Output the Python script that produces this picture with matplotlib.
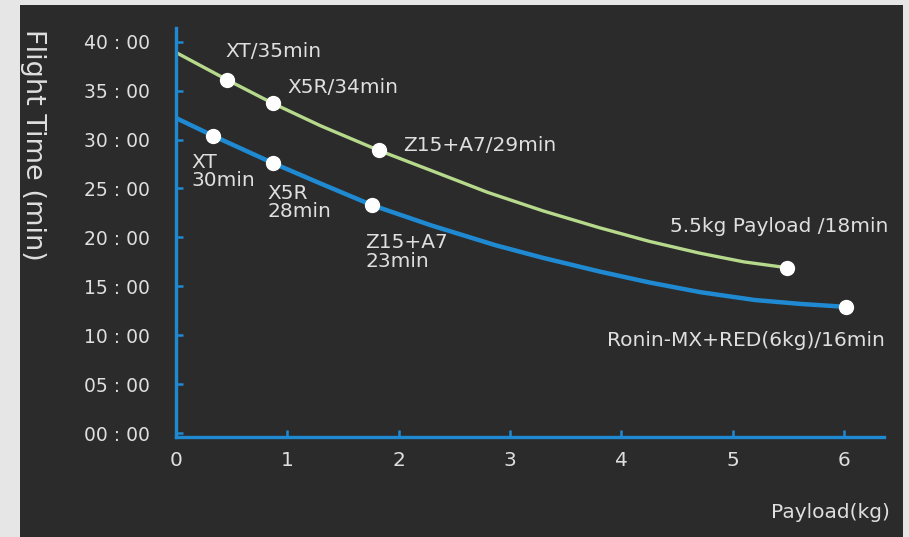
import matplotlib.pyplot as plt
from matplotlib.patches import Rectangle

# curve (payload kg, flight time min)
green_x = [0, 0.46, 0.87, 1.3, 1.82, 2.3, 2.8, 3.3, 3.8, 4.25, 4.7, 5.1, 5.49]
green_y = [38.9, 36.1, 33.7, 31.4, 28.9, 26.8, 24.6, 22.7, 21.0, 19.6, 18.4, 17.5, 16.9]
blue_x = [0, 0.33, 0.87, 1.3, 1.76, 2.3, 2.87, 3.3, 3.81, 4.25, 4.71, 5.2, 5.61, 6.02]
blue_y = [32.2, 30.4, 27.6, 25.5, 23.3, 21.2, 19.2, 17.9, 16.5, 15.4, 14.4, 13.6, 13.2, 12.9]

# labelled points
green_pts_x = [0.46, 0.87, 1.82, 5.49]
green_pts_y = [36.1, 33.7, 28.9, 16.9]
blue_pts_x = [0.33, 0.87, 1.76, 6.02]
blue_pts_y = [30.4, 27.6, 23.3, 12.9]

green_labels = ["XT/35min", "X5R/34min", "Z15+A7/29min", "5.5kg Payload /18min"]
blue_labels = ["XT\n30min", "X5R\n28min", "Z15+A7\n23min", "Ronin-MX+RED(6kg)/16min"]

yticks = [0, 5, 10, 15, 20, 25, 30, 35, 40]
ytick_labels = ["%02d : 00" % v for v in yticks]
xticks = [0, 1, 2, 3, 4, 5, 6]

BG = '#2b2b2b'
TXT = '#dfdfdf'
BLUE = '#1f8ad2'
GREEN = '#b6d98c'
plt.rcParams['font.family'] = ['DejaVu Sans']

fig = plt.figure(figsize=(9.09, 5.37), dpi=100, facecolor='#e6e6e6')
fig.patches.append(Rectangle((20/909, 0), 883/909, 532/537, transform=fig.transFigure,
                             facecolor=BG, edgecolor='none', zorder=-5))
ax = fig.add_axes([176/909, 100/537, 708/909, 409/537])
ax.set_facecolor('none')

ax.plot(green_x, green_y, color=GREEN, lw=2.4, solid_capstyle='round',
        solid_joinstyle='round', zorder=2)
ax.plot(blue_x, blue_y, color=BLUE, lw=3.2, solid_capstyle='round',
        solid_joinstyle='round', zorder=2)
ax.plot(green_pts_x, green_pts_y, 'o', color='white', ms=10, zorder=3)
ax.plot(blue_pts_x, blue_pts_y, 'o', color='white', ms=10, zorder=3)

# annotations
fs = 14.5
green_pos = [(0.44, 39.0), (1.0, 35.3), (2.04, 29.4), (4.44, 21.1)]
blue_pos = [(0.14, 28.6), (0.82, 25.5), (1.70, 20.4), (3.87, 9.5)]
for (x, y), s in zip(green_pos, green_labels):
    ax.text(x, y, s, color=TXT, fontsize=fs, va='center', ha='left')
for (x, y), s in zip(blue_pos[:3], blue_labels[:3]):
    ax.text(x, y, s, color=TXT, fontsize=fs, va='top', ha='left', linespacing=0.95)
ax.text(blue_pos[3][0], blue_pos[3][1], blue_labels[3], color=TXT, fontsize=fs, va='center', ha='left')

ax.set_xlim(0, 6.36)
ax.set_ylim(-0.4, 41.4)
ax.set_yticks(yticks)
ax.set_yticklabels(ytick_labels)
ax.set_xticks(xticks)
for side in ['top', 'right']:
    ax.spines[side].set_visible(False)
for side in ['left', 'bottom']:
    ax.spines[side].set_color(BLUE)
    ax.spines[side].set_linewidth(2.4)
ax.tick_params(axis='y', direction='in', length=5, width=1.8, color=BLUE,
               labelcolor=TXT, labelsize=13.5, pad=19)
ax.tick_params(axis='x', direction='in', length=5, width=1.8, color=BLUE,
               labelcolor=TXT, labelsize=14.5, pad=10)

fig.text(33/909, 508/537, "Flight Time (min)", color=TXT, fontsize=19.5,
         rotation=270, ha='center', va='top')
fig.text(890/909, 25/537, "Payload(kg)", color=TXT, fontsize=14.5, ha='right', va='center')

plt.savefig('out.png', dpi=100, facecolor=fig.get_facecolor())
